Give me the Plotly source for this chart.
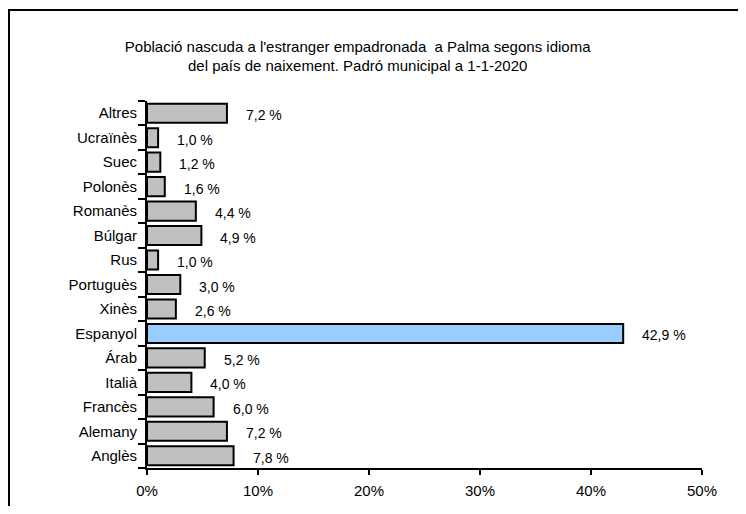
import plotly.graph_objects as go

categories = ["Anglès", "Alemany", "Francès", "Italià", "Árab", "Espanyol", "Xinès",
              "Portuguès", "Rus", "Búlgar", "Romanès", "Polonès", "Suec", "Ucraïnès", "Altres"]
values = [7.8, 7.2, 6.0, 4.0, 5.2, 42.9, 2.6, 3.0, 1.0, 4.9, 4.4, 1.6, 1.2, 1.0, 7.2]
x_ticks = [0, 10, 20, 30, 40, 50]
x_tick_labels = ["0%", "10%", "20%", "30%", "40%", "50%"]
highlight = "Espanyol"

colors = ["#99ccff" if c == highlight else "#c0c0c0" for c in categories]
labels = [f"{v:.1f}".replace(".", ",") + " %" for v in values]

FONT = "Liberation Sans, Arial, sans-serif"

W, H = 730, 498
L, T = 139, 93
PR, PB = 694, 460  # plot right / bottom in figure px
PW, PH = PR - L, PB - T

fig = go.Figure()
fig.add_trace(go.Bar(
    y=categories, x=values, orientation="h",
    marker=dict(color=colors, line=dict(color="black", width=2)),
    width=0.78, hoverinfo="skip", showlegend=False,
))

for c, v, t in zip(categories, values, labels):
    fig.add_annotation(x=v, y=c, text=t, showarrow=False, xanchor="left",
                       xshift=17, yshift=-2, font=dict(family=FONT, size=14, color="black"))

# outer frame
fig.add_shape(type="rect", xref="paper", yref="paper",
              x0=(1 - L) / PW, x1=(W + 20 - L) / PW,
              y0=(PB - (H + 20)) / PH, y1=(PB - 2) / PH,
              line=dict(color="black", width=2), fillcolor="rgba(0,0,0,0)", layer="below")

fig.update_layout(
    width=W, height=H,
    margin=dict(l=L, r=W - PR, t=T, b=H - PB, autoexpand=False),
    paper_bgcolor="white", plot_bgcolor="white",
    font=dict(family=FONT, size=14, color="black"),
    title=dict(text="Població nascuda a l'estranger empadronada  a Palma segons idioma<br>del país de naixement. Padró municipal a 1-1-2020",
               x=0.479, xanchor="center", y=0.912, yanchor="middle",
               font=dict(family=FONT, size=15, color="black")),
    xaxis=dict(range=[0, 50], tickvals=x_ticks, ticktext=x_tick_labels,
               showgrid=False, zeroline=False, showline=True, linecolor="black", linewidth=2,
               ticks="outside", ticklen=5, tickwidth=2, tickcolor="black",
               tickfont=dict(size=15), ticklabelstandoff=3, fixedrange=True, automargin=False),
    yaxis=dict(categoryorder="array", categoryarray=categories, range=[-0.5, len(categories) - 0.5],
               showgrid=False, showline=True, linecolor="black", linewidth=2,
               ticks="outside", tickson="boundaries", ticklen=7, tickwidth=2, tickcolor="black",
               tickfont=dict(size=15), ticklabelstandoff=5, fixedrange=True, automargin=False),
)

fig.write_html("out.html")
